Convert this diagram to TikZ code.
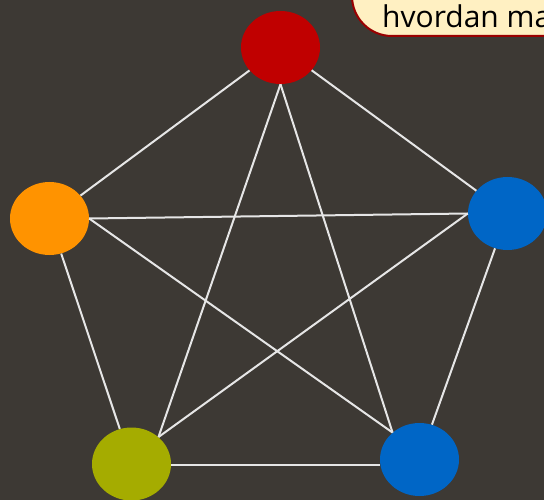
\documentclass[tikz,border=0pt]{standalone}
\usepackage{fontspec}
\setmainfont{Open Sans}
\usetikzlibrary{shapes.geometric}
\definecolor{bgc}{HTML}{3D3934}
\definecolor{redc}{HTML}{C00000}
\definecolor{orangec}{HTML}{FF9300}
\definecolor{bluec}{HTML}{0066C6}
\definecolor{olivec}{HTML}{A5AC00}
\definecolor{linec}{HTML}{E6E6E6}
\definecolor{calloutfill}{HTML}{FFF0C2}
\definecolor{calloutline}{HTML}{9A0000}
\tikzset{
  dot/.style={ellipse, draw=none, minimum width=79pt, minimum height=73pt, inner sep=0pt},
  edge/.style={draw=linec, line width=2pt},
}
\begin{document}
\begin{tikzpicture}[x=1pt,y=-1pt]
\useasboundingbox (0,0) rectangle (544,500);
\clip (0,0) rectangle (544,500);
\fill[bgc] (0,0) rectangle (544,500);
% callout
\draw[fill=calloutfill, draw=calloutline, line width=2pt, rounded corners=40pt] (352,-90) rectangle (640,36);
\node[anchor=base west, inner sep=0pt, font=\fontsize{30}{36}\selectfont] (txt) at (382,28) {hvordan ma};
% nodes
\node[dot, fill=redc] (red) at (280.5,47.5) {};
\node[dot, fill=orangec] (orange) at (49.5,218.5) {};
\node[dot, fill=bluec] (blueR) at (507.5,213.5) {};
\node[dot, fill=olivec] (olive) at (131.5,464) {};
\node[dot, fill=bluec] (blueB) at (419.5,459.5) {};
% outer edges
\draw[edge] (red) -- (orange);
\draw[edge] (red) -- (blueR);
\draw[edge] (orange) -- (olive);
\draw[edge] (blueR) -- (blueB);
\draw[edge] ([yshift=-1pt]olive.east) -- ([yshift=-1pt]olive.east -| blueB.west);
% inner edges
\draw[edge] (red.south) -- (olive.45);
\draw[edge] (red.south) -- (blueB.135);
\draw[edge] (orange.east) -- (blueR.west);
\draw[edge] (orange.east) -- (blueB.135);
\draw[edge] (olive.45) -- (blueR.west);
\end{tikzpicture}
\end{document}
